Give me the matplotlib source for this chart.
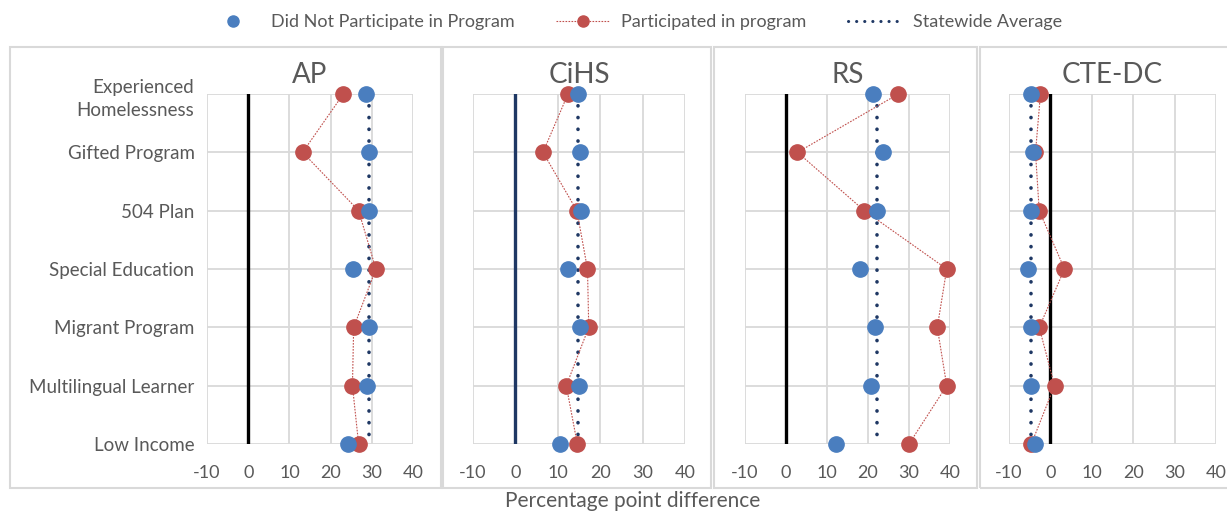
import matplotlib.pyplot as plt
from matplotlib.lines import Line2D
from matplotlib.patches import Rectangle

plt.rcParams['font.family'] = ['Lato', 'DejaVu Sans']
plt.rcParams['axes.unicode_minus'] = False

categories = ['Experienced\nHomelessness', 'Gifted Program', '504 Plan', 'Special Education',
              'Migrant Program', 'Multilingual Learner', 'Low Income']
programs = ['AP', 'CiHS', 'RS', 'CTE-DC']

# percentage point differences, one list per program (top to bottom)
ap_not = [28.7, 29.2, 29.4, 25.5, 29.2, 28.9, 24.2]
ap_part = [23.1, 13.2, 26.8, 31.0, 25.6, 25.3, 26.8]
ap_avg = 29.2

cihs_not = [14.8, 15.2, 15.4, 12.3, 15.2, 15.0, 10.6]
cihs_part = [12.4, 6.5, 14.5, 17.0, 17.3, 12.0, 14.6]
cihs_avg = 14.8

rs_not = [21.1, 23.7, 22.1, 18.0, 21.7, 20.7, 12.1]
rs_part = [27.4, 2.8, 19.1, 39.2, 36.9, 39.2, 30.0]
rs_avg = 22.1

cte_not = [-4.8, -4.3, -4.8, -5.3, -4.8, -4.8, -3.6]
cte_part = [-2.4, -3.6, -2.7, 3.4, -2.7, 1.0, -4.6]
cte_avg = -4.8

not_vals = [ap_not, cihs_not, rs_not, cte_not]
part_vals = [ap_part, cihs_part, rs_part, cte_part]
avg_vals = [ap_avg, cihs_avg, rs_avg, cte_avg]
zero_colors = ['black', '#1F3864', 'black', 'black']

BLUE = '#4A7EBF'
RED = '#C0504D'
NAVY = '#1F3864'
GRID = '#D9D9D9'
TXT = '#595959'

W, H = 1227, 512
fig = plt.figure(figsize=(W / 100, H / 100), dpi=100)

# panel frames (pixel boxes: left, top, right, bottom)
frames = [(10, 47, 441, 488), (443, 47, 711, 488), (714, 47, 977, 488), (980, 47, 1240, 488)]
for l, t, r, b in frames:
    fig.add_artist(Rectangle((l / W, 1 - b / H), (r - l) / W, (b - t) / H,
                             transform=fig.transFigure, fill=False,
                             edgecolor=GRID, linewidth=1.5))

axes_x = [(207, 413), (473, 685), (745, 950), (1009, 1216)]
top, bottom = 94, 444
ypos = list(range(len(categories)))

for i, (x0, x1) in enumerate(axes_x):
    ax = fig.add_axes([x0 / W, 1 - bottom / H, (x1 - x0) / W, (bottom - top) / H])
    ax.set_xlim(-10, 40)
    ax.set_ylim(len(categories) - 1, 0)
    ax.set_xticks([-10, 0, 10, 20, 30, 40])
    ax.set_yticks(ypos)
    ax.grid(True, color=GRID, linewidth=1.3)
    ax.set_axisbelow(True)
    for s in ax.spines.values():
        s.set_visible(False)
    ax.tick_params(length=0, labelsize=13, labelcolor=TXT)
    ax.tick_params(axis='x', pad=15)
    if i == 0:
        ax.set_yticklabels(categories, linespacing=1.5, fontsize=13.5)
        ax.tick_params(axis='y', pad=9)
    else:
        ax.set_yticklabels([])

    ax.plot([0, 0], [0, len(categories) - 1], color=zero_colors[i], linewidth=2.4, zorder=2)
    ax.plot([avg_vals[i]] * 2, [0, len(categories) - 1], color=NAVY, linewidth=2.6,
            linestyle=(0, (0.05, 3.2)), dash_capstyle='round', zorder=3)
    ax.plot(part_vals[i], ypos, color=RED, linewidth=0.8, linestyle=(0, (1.5, 1.2)),
            marker='o', markersize=11, markerfacecolor=RED, markeredgecolor=RED,
            clip_on=False, zorder=4)
    ax.plot(not_vals[i], ypos, linestyle='none', marker='o', markersize=11,
            color=BLUE, clip_on=False, zorder=5)
    ax.set_title(programs[i], fontsize=20, color=TXT, pad=8)

handles = [
    Line2D([], [], linestyle='none', marker='o', markersize=8, color=BLUE),
    Line2D([], [], color=RED, linewidth=0.8, linestyle=(0, (1.5, 1.2)), marker='o',
           markersize=8, markerfacecolor=RED, markeredgecolor=RED),
    Line2D([], [], color=NAVY, linewidth=2.2, linestyle=(0, (0.05, 2.6)), dash_capstyle='round'),
]
labels = ['Did Not Participate in Program', 'Participated in program', 'Statewide Average']
fig.legend(handles, labels, loc='center', bbox_to_anchor=(634 / W, 1 - 22 / H), ncol=3,
           frameon=False, fontsize=13, labelcolor=TXT, handlelength=3.0, columnspacing=2.3,
           handletextpad=0.6)

fig.text(633 / W, 1 - 501 / H, 'Percentage point difference', ha='center', va='center',
         fontsize=15, color=TXT)

fig.savefig('out.png', dpi=100)
